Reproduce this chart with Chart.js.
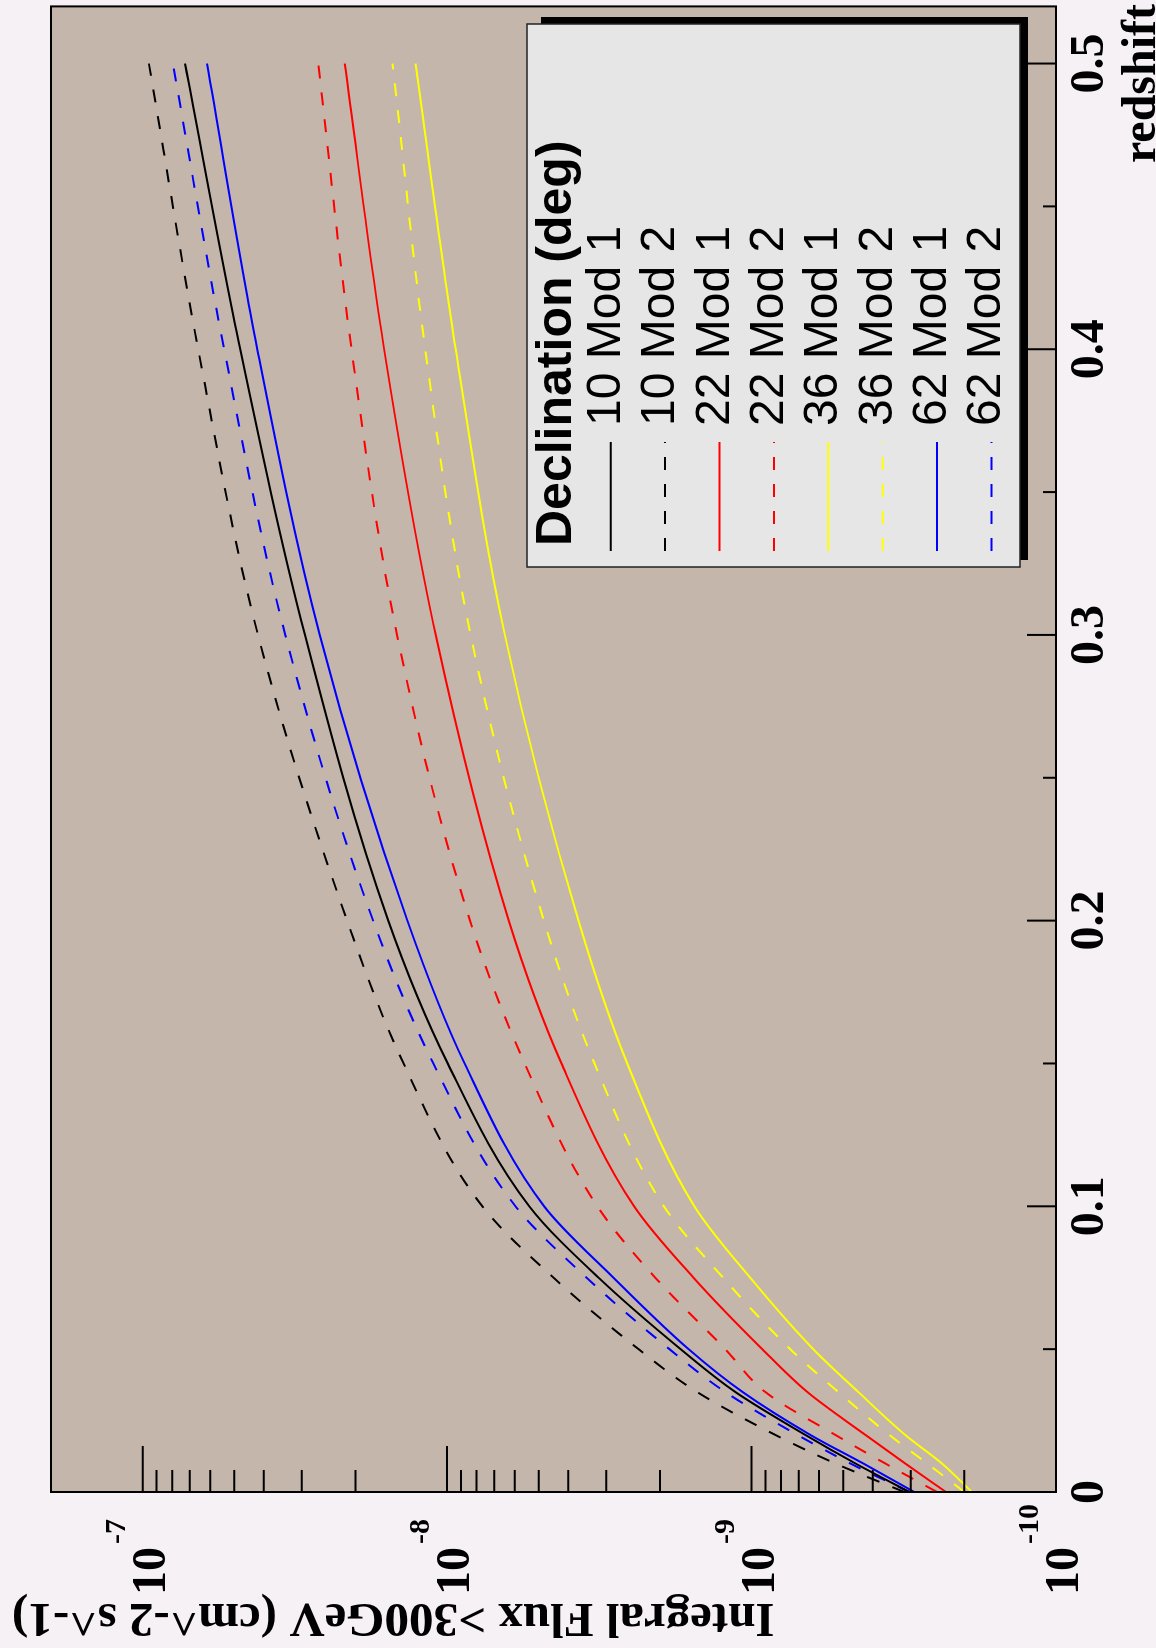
<!DOCTYPE html>
<html><head><meta charset="utf-8">
<script src="https://cdn.jsdelivr.net/npm/chart.js@4.4.1/dist/chart.umd.min.js"></script>
<style>
html,body{margin:0;padding:0;width:1156px;height:1648px;overflow:hidden;background:#f5f1f5;}
#wrap{position:absolute;left:0;top:0;width:1648px;height:1156px;transform-origin:0 0;transform:translate(0,1648px) rotate(-90deg);}
canvas{display:block;}
</style></head><body>
<div id="wrap"><canvas id="c" width="1648" height="1156" style="width:1648px;height:1156px"></canvas></div>
<script>
// ---- data ----
const redshift   = [0, 0.01, 0.02, 0.035, 0.05, 0.075, 0.1, 0.15, 0.2, 0.3, 0.4, 0.5];
const flux10Mod1 = [3.03e-10, 4.56e-10, 6.66e-10, 1.13e-9, 1.71e-9, 3.18e-9, 5.37e-9, 9.95e-9, 1.56e-8, 2.93e-8, 4.78e-8, 7.26e-8];
const flux10Mod2 = [3.15e-10, 5.31e-10, 8.36e-10, 1.51e-9, 2.35e-9, 4.47e-9, 7.66e-9, 1.39e-8, 2.13e-8, 4.18e-8, 6.57e-8, 9.54e-8];
const flux22Mod1 = [2.30e-10, 3.13e-10, 4.23e-10, 6.56e-10, 9.22e-10, 1.55e-9, 2.43e-9, 4.21e-9, 6.27e-9, 1.09e-8, 1.61e-8, 2.17e-8];
const flux22Mod2 = [2.46e-10, 3.64e-10, 5.31e-10, 9.01e-10, 1.22e-9, 2.07e-9, 3.21e-9, 5.56e-9, 8.41e-9, 1.46e-8, 2.06e-8, 2.65e-8];
const flux36Mod1 = [1.89e-10, 2.37e-10, 3.13e-10, 4.46e-10, 6.27e-10, 1.01e-9, 1.54e-9, 2.56e-9, 3.70e-9, 6.46e-9, 9.37e-9, 1.27e-8];
const flux36Mod2 = [2.00e-10, 2.65e-10, 3.53e-10, 5.19e-10, 7.46e-10, 1.24e-9, 1.94e-9, 3.28e-9, 4.81e-9, 8.37e-9, 1.18e-8, 1.51e-8];
const flux62Mod1 = [2.92e-10, 4.30e-10, 6.41e-10, 1.07e-9, 1.61e-9, 2.84e-9, 4.80e-9, 8.76e-9, 1.35e-8, 2.62e-8, 4.20e-8, 6.15e-8];
const flux62Mod2 = [3.03e-10, 4.74e-10, 7.07e-10, 1.22e-9, 1.86e-9, 3.48e-9, 5.96e-9, 1.11e-8, 1.75e-8, 3.40e-8, 5.40e-8, 7.96e-8];

const seriesLabels = ['10 Mod 1','10 Mod 2','22 Mod 1','22 Mod 2','36 Mod 1','36 Mod 2','62 Mod 1','62 Mod 2'];
const seriesValues = [flux10Mod1, flux10Mod2, flux22Mod1, flux22Mod2, flux36Mod1, flux36Mod2, flux62Mod1, flux62Mod2];
const seriesColors = ['#000000','#000000','#ff0000','#ff0000','#ffff00','#ffff00','#0000ff','#0000ff'];
const seriesDashed = [false, true, false, true, false, true, false, true];

const zTickValues = [0, 0.1, 0.2, 0.3, 0.4, 0.5];
const zTickLabels = ['0', '0.1', '0.2', '0.3', '0.4', '0.5'];
const fluxDecades = [-10, -9, -8, -7];
const xTitle = 'redshift';
const yTitle = 'Integral Flux >300GeV (cm^-2 s^-1)';
const legendHeader = 'Declination (deg)';

// ---- styles ----
const PAGE_BG = '#f5f1f5';
const FRAME_BG = '#c4b6ab';
const LEGEND_BG = '#e6e6e6';
const SERIF = '"Liberation Serif","DejaVu Serif",serif';
const SANS = '"Liberation Sans",Arial,sans-serif';

const datasets = seriesLabels.map((lab, k) => ({
  label: lab,
  data: redshift.map((z, i) => ({x: z, y: seriesValues[k][i]})),
  borderColor: seriesColors[k],
  backgroundColor: seriesColors[k],
  borderWidth: 2,
  borderDash: seriesDashed[k] ? [13, 14] : [],
  pointRadius: 0,
  fill: false,
  cubicInterpolationMode: 'monotone'
}));

const rootPlot = {
  id: 'rootPlot',
  beforeDraw(chart) {
    const {ctx, chartArea: a} = chart;
    ctx.save();
    ctx.fillStyle = PAGE_BG;
    ctx.fillRect(0, 0, chart.width, chart.height);
    ctx.fillStyle = FRAME_BG;
    ctx.fillRect(a.left, a.top, a.right - a.left, a.bottom - a.top);
    ctx.restore();
  },
  afterDatasetsDraw(chart) {
    const {ctx, chartArea: a} = chart;
    const xs = chart.scales.x, ys = chart.scales.y;
    ctx.save();
    // ticks
    ctx.strokeStyle = '#000';
    ctx.lineWidth = 2;
    ctx.beginPath();
    for (let i = 0; i <= 10; i++) {
      const u = xs.getPixelForValue(i * 0.05);
      const len = (i % 2 === 0) ? 29 : 13;
      ctx.moveTo(u, a.bottom); ctx.lineTo(u, a.bottom - len);
    }
    for (const d of fluxDecades) {
      const v = ys.getPixelForValue(Math.pow(10, d));
      ctx.moveTo(a.left, v); ctx.lineTo(a.left + 46, v);
      if (d < -7) {
        for (let m = 2; m <= 9; m++) {
          const vm = ys.getPixelForValue(m * Math.pow(10, d));
          ctx.moveTo(a.left, vm); ctx.lineTo(a.left + 22, vm);
        }
      }
    }
    ctx.stroke();
    // frame
    ctx.lineWidth = 2;
    ctx.strokeRect(a.left, a.top, a.right - a.left, a.bottom - a.top);

    // x tick labels
    ctx.fillStyle = '#000';
    ctx.font = 'bold 48px ' + SERIF;
    ctx.textAlign = 'center';
    ctx.textBaseline = 'alphabetic';
    zTickValues.forEach((z, i) => {
      ctx.fillText(zTickLabels[i], xs.getPixelForValue(z), a.bottom + 47);
    });
    // y tick labels 10^n
    fluxDecades.forEach(d => {
      const v = ys.getPixelForValue(Math.pow(10, d));
      ctx.font = 'bold 48px ' + SERIF;
      ctx.textAlign = 'right';
      ctx.fillText('10', a.left - 55, v + 22);
      ctx.font = 'bold 30px ' + SERIF;
      ctx.textAlign = 'left';
      ctx.fillText(String(d), a.left - 52, v - 18);
    });
    // x title
    ctx.font = 'bold 48px ' + SERIF;
    ctx.textAlign = 'right';
    ctx.fillText(xTitle, chart.width - 4, a.bottom + 99);
    // y title (rotated)
    ctx.save();
    ctx.translate(44, 12);
    ctx.rotate(-Math.PI / 2);
    ctx.font = 'bold 49px ' + SERIF;
    ctx.textAlign = 'right';
    ctx.fillText(yTitle, 0, 0);
    ctx.restore();

    // legend
    const u0 = 1081, u1 = 1624, v0 = 527, v1 = 1020;
    ctx.fillStyle = '#000';
    ctx.fillRect(u0 + 7, v0 + 14, u1 - u0, v1 - v0 - 6);
    ctx.fillStyle = LEGEND_BG;
    ctx.fillRect(u0, v0, u1 - u0, v1 - v0);
    ctx.strokeStyle = '#222';
    ctx.lineWidth = 1.5;
    ctx.strokeRect(u0, v0, u1 - u0, v1 - v0);
    ctx.fillStyle = '#000';
    ctx.font = 'bold 50px ' + SANS;
    ctx.textAlign = 'left';
    ctx.fillText(legendHeader, 1102, 571);
    chart.data.datasets.forEach((ds, i) => {
      const vl = 610.7 + 54.4 * i;
      ctx.strokeStyle = ds.borderColor;
      ctx.lineWidth = 2;
      ctx.setLineDash(ds.borderDash || []);
      ctx.beginPath();
      ctx.moveTo(1097, vl); ctx.lineTo(1206, vl);
      ctx.stroke();
      ctx.setLineDash([]);
      ctx.fillStyle = '#000';
      ctx.font = '48px ' + SANS;
      ctx.fillText(ds.label, 1222, 620 + 54.3 * i);
    });
    ctx.restore();
  }
};

new Chart(document.getElementById('c'), {
  type: 'line',
  data: {datasets},
  options: {
    responsive: false,
    animation: false,
    devicePixelRatio: 1,
    layout: {padding: {left: 156, right: 6.4, top: 51, bottom: 100}},
    plugins: {legend: {display: false}, tooltip: {enabled: false}},
    scales: {
      x: {type: 'linear', min: 0, max: 0.52, display: false},
      y: {type: 'logarithmic', min: 1e-10, max: 2e-7, display: false}
    }
  },
  plugins: [rootPlot]
});
</script>
</body></html>
